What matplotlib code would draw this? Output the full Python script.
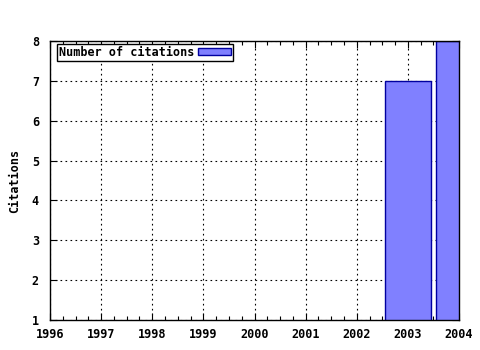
import matplotlib
matplotlib.use("Agg")
import matplotlib.pyplot as plt
from matplotlib.ticker import MultipleLocator

years = [2003, 2004]
citations = [7, 8]
year_ticks = list(range(1996, 2005))
label = "Number of citations"

plt.rcParams['font.family'] = 'DejaVu Sans Mono'
plt.rcParams['font.weight'] = 'bold'
plt.rcParams['font.size'] = 8.5

fig = plt.figure(figsize=(4.8, 3.5), dpi=100)
ax = fig.add_axes([50 / 480, 30 / 350, 409 / 480, 279 / 350])

ax.bar(years, citations, width=0.9, color='#8080ff', edgecolor='#0000a0',
       linewidth=1.0, label=label, zorder=3)

ax.set_xlim(1996, 2004)
ax.set_ylim(1, 8)
ax.set_xticks(year_ticks)
ax.set_xticklabels([str(y) for y in year_ticks])
ax.set_yticks(range(1, 9))
ax.xaxis.set_minor_locator(MultipleLocator(0.25))
ax.tick_params(which='both', direction='in', top=True, right=True, width=0.8)
ax.tick_params(which='major', length=5, pad=6)
ax.tick_params(which='minor', length=3)
ax.tick_params(axis='y', pad=8)

ax.grid(True, which='major', color='black', linestyle=(0, (1.5, 3)),
        linewidth=0.8, zorder=1)
ax.set_axisbelow(True)
for s in ax.spines.values():
    s.set_linewidth(1.0)
    s.set_zorder(4)

ax.set_ylabel("Citations", fontweight='bold', labelpad=8)

leg = ax.legend(loc='upper left', bbox_to_anchor=(7 / 409, 1 - 3 / 279),
                fancybox=False, framealpha=1, edgecolor='black', borderpad=0.15,
                handlelength=2.8, handleheight=0.6, handletextpad=0.35,
                borderaxespad=0.0, markerfirst=False)
leg.get_frame().set_linewidth(1.0)

fig.savefig("out.png", dpi=100)
